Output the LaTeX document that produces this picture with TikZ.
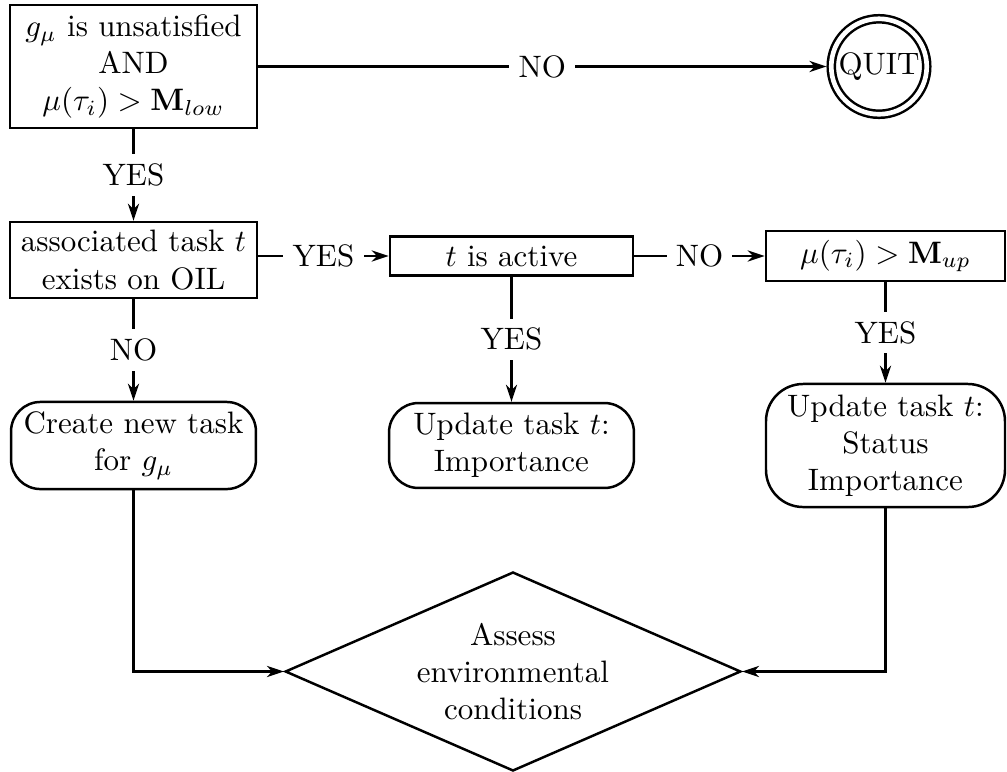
\documentclass[tikz,border=0pt]{standalone}
\usetikzlibrary{arrows.meta,shapes.geometric}
\begin{document}
\begin{tikzpicture}[
  x=0.3226pt, y=-0.3226pt,
  every node/.style={align=center},
  flow/.style={thick,-{Stealth[length=5.5pt,width=3.6pt,inset=1.7pt]}},
  decision/.style={draw,thick,rectangle,inner sep=0pt},
  action/.style={draw,thick,rectangle,rounded corners=9.5pt,inner sep=0pt},
  final/.style={draw,thick,circle,double,double distance=1.5pt,
                minimum size=30.8pt,inner sep=0pt,outer sep=1.55pt},
  assess/.style={draw,thick,diamond,aspect=2.28,inner sep=0pt,
                 minimum width=147pt,minimum height=64.2pt},
  answer/.style={fill=white,inner sep=3pt}
]
\useasboundingbox (0,0) rectangle (1007,771);

% tests
\node[decision,minimum width=79.7pt,minimum height=39.7pt] (cond) at (133.5,66.5)
  {$g_\mu$ is unsatisfied\\AND\\$\mu(\tau_i) > \mathbf{M}_{low}$};
\node[final] (quit) at (879,66.5) {QUIT};
\node[decision,minimum width=79.7pt,minimum height=24.5pt] (exists) at (133.5,260)
  {associated task $t$\\exists on OIL};
\node[decision,minimum width=78.4pt,minimum height=12.6pt] (active) at (511.5,256)
  {$t$ is active};
\node[decision,minimum width=77.1pt,minimum height=16.1pt] (upper) at (885.5,256)
  {$\mu(\tau_i) > \mathbf{M}_{up}$};

% actions
\node[action,minimum width=79pt,minimum height=28.1pt] (create) at (133.5,445.5)
  {Create new task\\for $g_\mu$};
\node[action,minimum width=79pt,minimum height=27.4pt] (imp) at (511.5,445.5)
  {Update task $t$:\\Importance};
\node[action,rounded corners=12pt,minimum width=77.1pt,minimum height=39.7pt] (statimp) at (885.5,445.5)
  {Update task $t$:\\Status\\Importance};

\node[assess] (env) at (513,671.5) {Assess\\environmental\\conditions};

% connectors
\draw[flow] (cond.east) -- node[answer] {NO} (quit.west);
\draw[flow] (cond.south) -- node[answer] {YES} (exists.north);
\draw[flow] (exists.east |- active.west) -- node[answer] {YES} (active.west);
\draw[flow] (active.east) -- node[answer] {NO} (upper.west);
\draw[flow] (exists.south) -- node[answer] {NO} (create.north);
\draw[flow] (active.south) -- node[answer] {YES} (imp.north);
\draw[flow] (upper.south) -- node[answer] {YES} (statimp.north);
\draw[flow] (create.south) |- (env.west);
\draw[flow] (statimp.south) |- (env.east);
\end{tikzpicture}
\end{document}
